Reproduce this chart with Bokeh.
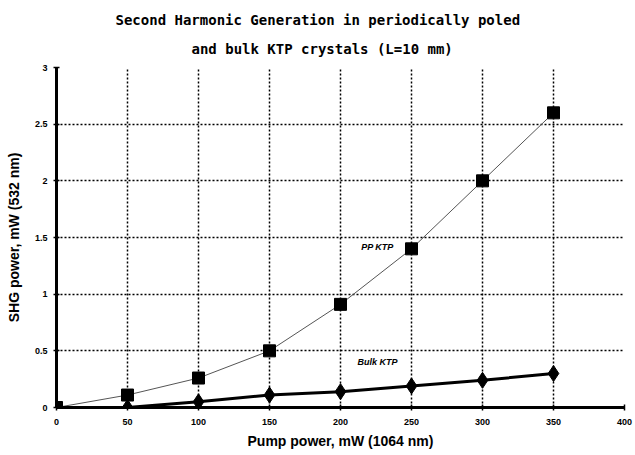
from bokeh.plotting import figure
from bokeh.models import Label, FixedTicker, Range1d, Title
from bokeh.embed import file_html
from bokeh.resources import INLINE

# Pump power (mW) and second-harmonic output (mW) for the two crystals
pump_mw = [0, 50, 100, 150, 200, 250, 300, 350]
pp_ktp_mw = [0.0, 0.11, 0.26, 0.50, 0.91, 1.40, 2.00, 2.60]
bulk_ktp_mw = [0.0, 0.0, 0.05, 0.11, 0.14, 0.19, 0.24, 0.30]

x_ticks = [0, 50, 100, 150, 200, 250, 300, 350, 400]
y_ticks = [0, 0.5, 1, 1.5, 2, 2.5, 3]
y_tick_labels = {0: "0", 0.5: "0.5", 1: "1", 1.5: "1.5", 2: "2", 2.5: "2.5", 3: "3"}

title_lines = ["Second Harmonic Generation in periodically poled",
               "and bulk KTP crystals (L=10 mm)"]

FONT = "Liberation Sans"
TITLE_FONT = "DejaVu Sans Mono"

p = figure(width=635, height=455, output_backend="svg", toolbar_location=None,
           x_range=Range1d(0, 400), y_range=Range1d(0, 3),
           min_border_left=56, min_border_right=11,
           min_border_top=67, min_border_bottom=48)
p.outline_line_color = None
p.background_fill_color = "white"

# heading: the first title sits on top, the later one next to the frame
p.title.text = title_lines[0]
p.title.align = "left"
p.title.offset = 59
p.title.text_font = TITLE_FONT
p.title.text_font_style = "bold"
p.title.text_font_size = "14px"
p.title.text_color = "black"
p.title.standoff = 1
p.add_layout(Title(text=title_lines[1], align="left", offset=135,
                   text_font=TITLE_FONT, text_font_style="bold",
                   text_font_size="14px", text_color="black",
                   standoff=21), "above")

# dotted grid on every tick
for g in (p.xgrid, p.ygrid):
    g.grid_line_color = "black"
    g.grid_line_dash = "2 2"
    g.grid_line_width = 1.5
p.xgrid.ticker = FixedTicker(ticks=x_ticks)
p.ygrid.ticker = FixedTicker(ticks=y_ticks)

for ax in (p.xaxis[0], p.yaxis[0]):
    ax.axis_line_width = 3
    ax.axis_line_color = "black"
    ax.major_tick_line_width = 1.5
    ax.major_tick_in = 3
    ax.major_tick_out = 3
    ax.minor_tick_line_color = None
    ax.major_label_text_font = FONT
    ax.major_label_text_font_style = "bold"
    ax.major_label_text_font_size = "9px"
    ax.major_label_text_color = "black"
    ax.axis_label_text_font = FONT
    ax.axis_label_text_font_style = "bold"
    ax.axis_label_text_font_size = "14px"
    ax.axis_label_text_color = "black"

p.xaxis.ticker = FixedTicker(ticks=x_ticks)
p.yaxis.ticker = FixedTicker(ticks=y_ticks)
p.yaxis.major_label_overrides = y_tick_labels
p.xaxis.axis_label = "Pump power, mW (1064 nm)"
p.yaxis.axis_label = "SHG power, mW (532 nm)"
p.xaxis.major_label_standoff = 8
p.yaxis.major_label_standoff = 6
p.xaxis.axis_label_standoff = 5
p.yaxis.axis_label_standoff = 10

# periodically poled KTP: thin line with square markers
p.line(pump_mw, pp_ktp_mw, line_color="#555555", line_width=1)
p.scatter(pump_mw, pp_ktp_mw, marker="square", size=12, color="black")

# bulk KTP: heavy line with diamond markers
p.line(pump_mw, bulk_ktp_mw, line_color="black", line_width=3)
p.scatter(pump_mw[1:], bulk_ktp_mw[1:], marker="diamond", size=16, color="black")

p.add_layout(Label(x=226, y=1.42, text="PP KTP", text_font=FONT,
                   text_font_style="bold italic", text_font_size="9px",
                   text_color="black", text_align="center", text_baseline="middle"))
p.add_layout(Label(x=226, y=0.40, text="Bulk KTP", text_font=FONT,
                   text_font_style="bold italic", text_font_size="9px",
                   text_color="black", text_align="center", text_baseline="middle"))

open("out.html", "w").write(file_html(p, INLINE))
